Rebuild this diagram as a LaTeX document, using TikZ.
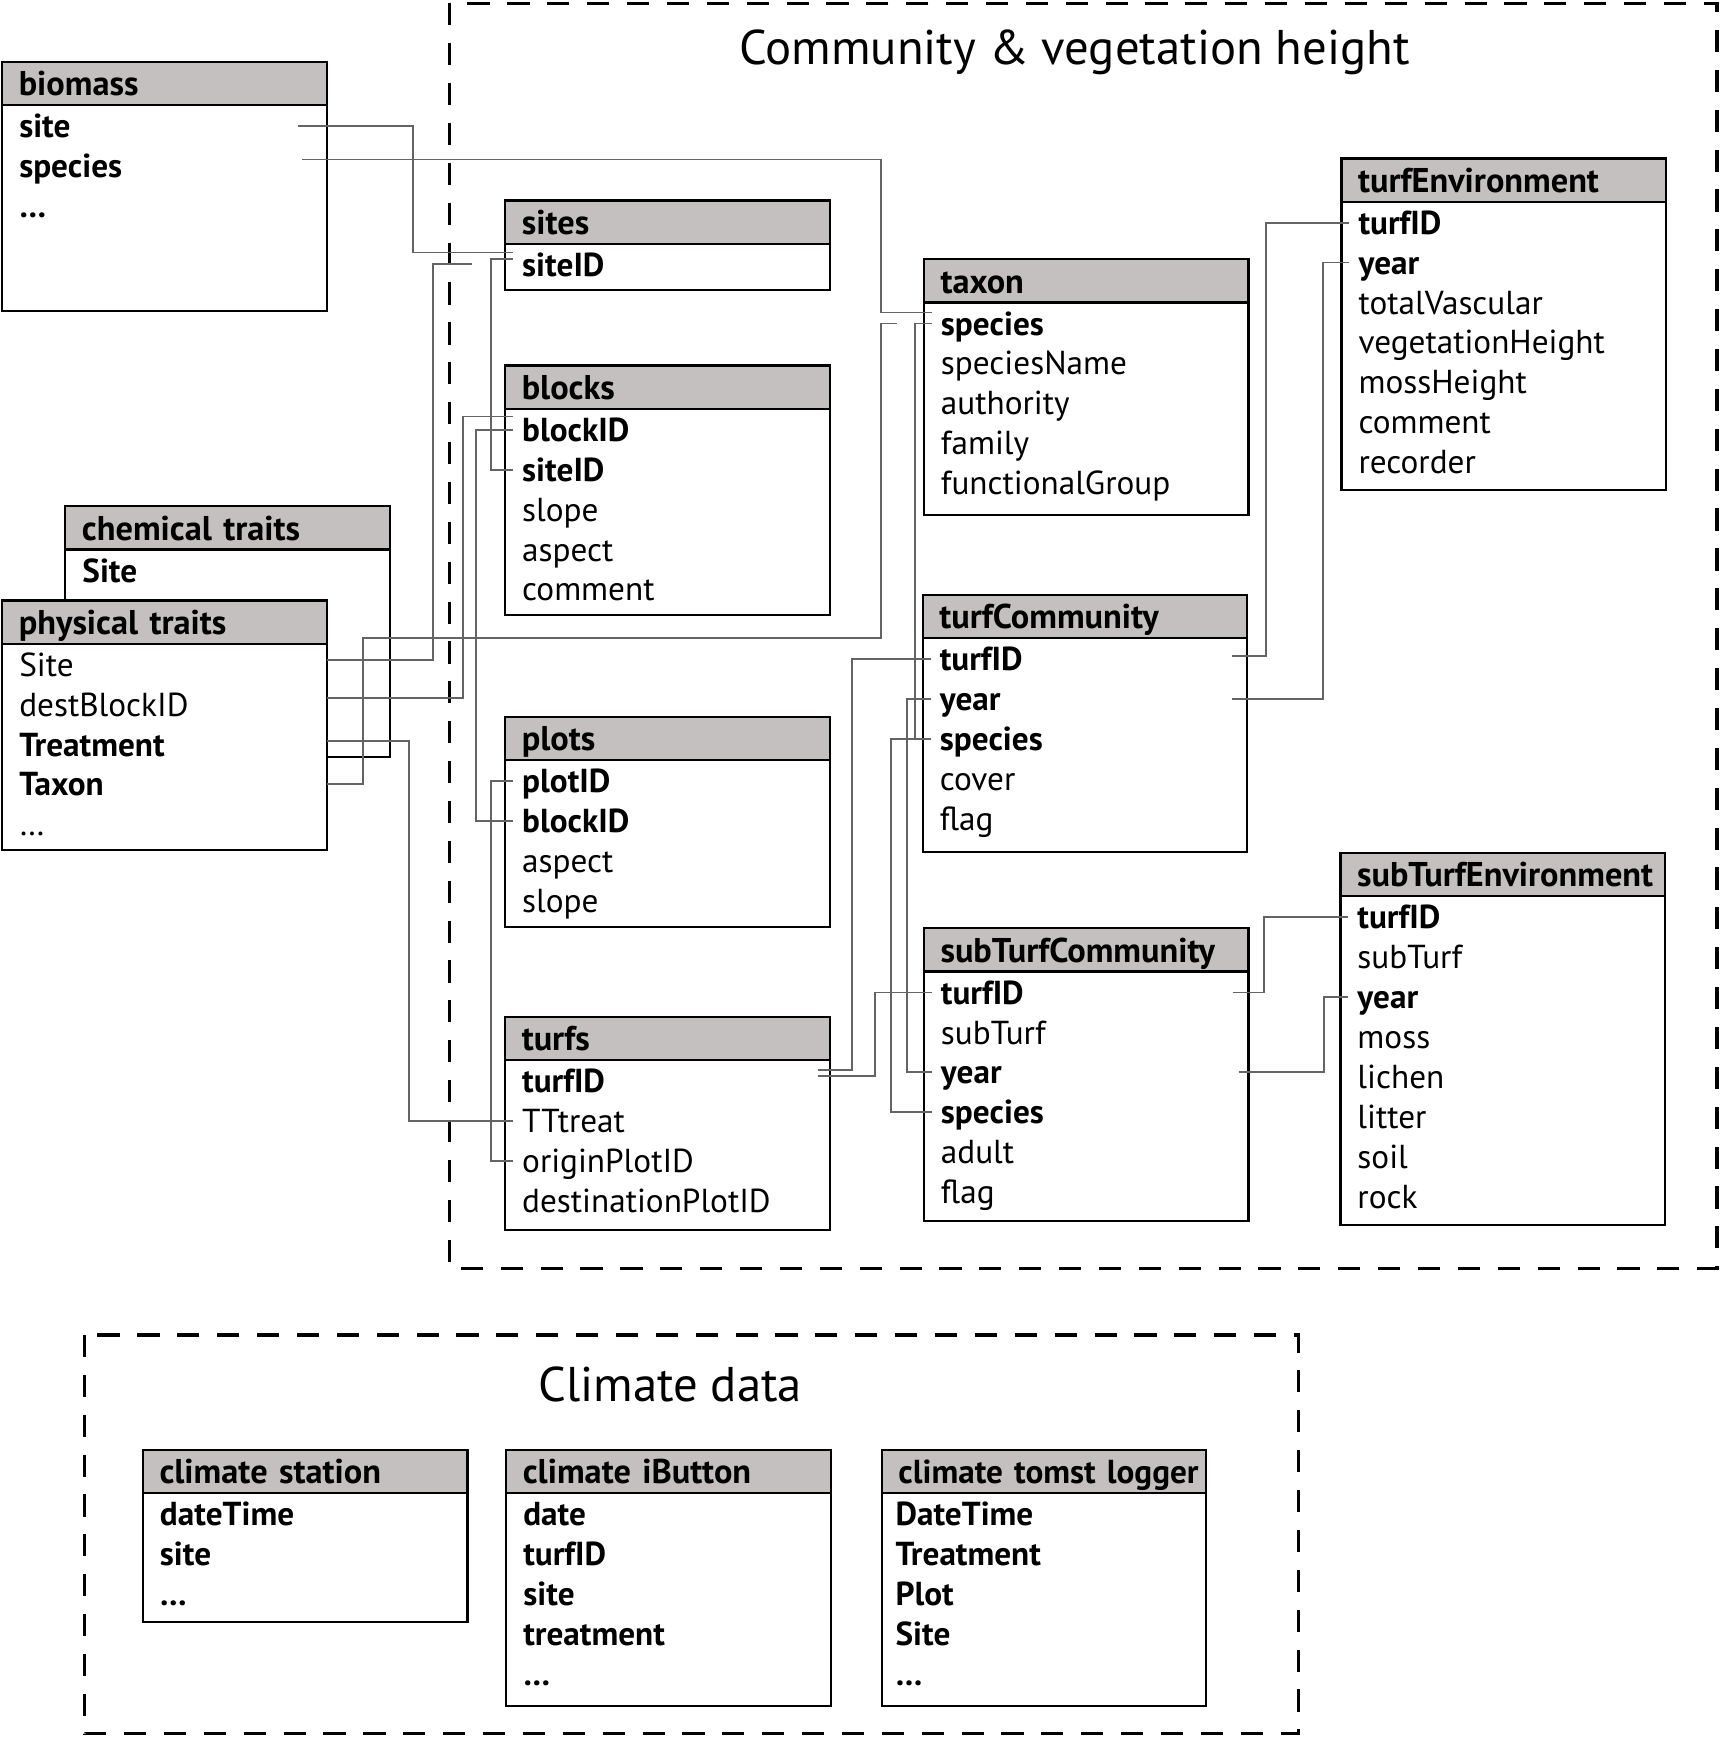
\documentclass[tikz,border=0pt]{standalone}
\usepackage{fontspec}
\setmainfont{PT Sans}
\usetikzlibrary{calc}
\definecolor{headgray}{HTML}{C4C0BF}
\definecolor{linkgray}{HTML}{646464}

\begin{document}
\begin{tikzpicture}[x=0.5pt,y=-0.5pt]
  \tikzset{
    table/.style={draw=black, line width=1pt, outer sep=0pt, anchor=north west,
          minimum width=146.5pt},
    head/.style={table, fill=headgray, minimum height=19.5pt, inner xsep=7.5pt,
          inner ysep=2pt, text width=131.5pt, text height=13pt, text depth=2pt,
          font=\fontsize{15.5}{18}\selectfont\bfseries},
    body/.style={table, fill=white},
    field/.style={anchor=west, inner xsep=4pt, inner ysep=0pt,
          text height=12pt, text depth=1.5pt, font=\fontsize{15}{18}\selectfont},
    link/.style={draw=linkgray, line width=0.8pt},
    group/.style={line width=1.5pt, dash pattern=on 10pt off 8pt},
    title/.style={font=\fontsize{22}{26}\selectfont}
  }
  \useasboundingbox (0,0) rectangle (1553,1568);
  \fill[white] (0,0) rectangle (1553,1568);

  % dashed groups
  \draw[group] (406,3) rectangle (1550,1145);
  \draw[group] (76,1205) rectangle (1172,1565);
  \node[title] (commtitle) at (970,47) {Community \& vegetation height};
  \node[title] (climtitle) at (605,1250) {Climate data};

  % tables outside the groups
  \node[head] (biomass) at (2,56) {biomass};
  \node[body, minimum height=93pt] (biomass-b) at (biomass.south west) {};
  \foreach \f/\w [count=\i] in {site/\bfseries, species/\bfseries, \dots/\bfseries}
    \node[field] (biomass-\i) at ($(biomass.south west)+(7,36*\i-17)$) {\w\f};

  \node[head] (chem) at (59,457) {chemical traits};
  \node[body, minimum height=93.5pt] (chem-b) at (chem.south west) {};
  \foreach \f/\w [count=\i] in {Site/\bfseries}
    \node[field] (chem-\i) at ($(chem.south west)+(7,36*\i-17)$) {\w\f};

  \node[head] (phys) at (2,542) {physical traits};
  \node[body, minimum height=93pt] (phys-b) at (phys.south west) {};
  \foreach \f/\w [count=\i] in {Site/\mdseries, destBlockID/\mdseries,
      Treatment/\bfseries, Taxon/\bfseries, \dots/\mdseries}
    \node[field] (phys-\i) at ($(phys.south west)+(7,36*\i-17)$) {\w\f};

  % community tables
  \node[head] (sites) at (456,181) {sites};
  \node[body, minimum height=21pt] (sites-b) at (sites.south west) {};
  \foreach \f/\w [count=\i] in {siteID/\bfseries}
    \node[field] (sites-\i) at ($(sites.south west)+(7,36*\i-17)$) {\w\f};

  \node[head] (blocks) at (456,330) {blocks};
  \node[body, minimum height=93pt] (blocks-b) at (blocks.south west) {};
  \foreach \f/\w [count=\i] in {blockID/\bfseries, siteID/\bfseries,
      slope/\mdseries, aspect/\mdseries, comment/\mdseries}
    \node[field] (blocks-\i) at ($(blocks.south west)+(7,36*\i-17)$) {\w\f};

  \node[head] (plots) at (456,647) {plots};
  \node[body, minimum height=75.5pt] (plots-b) at (plots.south west) {};
  \foreach \f/\w [count=\i] in {plotID/\bfseries, blockID/\bfseries,
      aspect/\mdseries, slope/\mdseries}
    \node[field] (plots-\i) at ($(plots.south west)+(7,36*\i-17)$) {\w\f};

  \node[head] (turfs) at (456,918) {turfs};
  \node[body, minimum height=76.5pt] (turfs-b) at (turfs.south west) {};
  \foreach \f/\w [count=\i] in {turfID/\bfseries, TTtreat/\mdseries,
      originPlotID/\mdseries, destinationPlotID/\mdseries}
    \node[field] (turfs-\i) at ($(turfs.south west)+(7,36*\i-17)$) {\w\f};

  \node[head] (taxon) at (834,234) {taxon};
  \node[body, minimum height=96pt] (taxon-b) at (taxon.south west) {};
  \foreach \f/\w [count=\i] in {species/\bfseries, speciesName/\mdseries,
      authority/\mdseries, family/\mdseries, functionalGroup/\mdseries}
    \node[field] (taxon-\i) at ($(taxon.south west)+(7,36*\i-17)$) {\w\f};

  \node[head] (tcomm) at (833,537) {turfCommunity};
  \node[body, minimum height=96.5pt] (tcomm-b) at (tcomm.south west) {};
  \foreach \f/\w [count=\i] in {turfID/\bfseries, year/\bfseries,
      species/\bfseries, cover/\mdseries, flag/\mdseries}
    \node[field] (tcomm-\i) at ($(tcomm.south west)+(7,36*\i-17)$) {\w\f};

  \node[head] (stcomm) at (834,838) {subTurfCommunity};
  \node[body, minimum height=112.5pt] (stcomm-b) at (stcomm.south west) {};
  \foreach \f/\w [count=\i] in {turfID/\bfseries, subTurf/\mdseries,
      year/\bfseries, species/\bfseries, adult/\mdseries, flag/\mdseries}
    \node[field] (stcomm-\i) at ($(stcomm.south west)+(7,36*\i-17)$) {\w\f};

  \node[head] (tenv) at (1211,143) {turfEnvironment};
  \node[body, minimum height=130pt] (tenv-b) at (tenv.south west) {};
  \foreach \f/\w [count=\i] in {turfID/\bfseries, year/\bfseries,
      totalVascular/\mdseries, vegetationHeight/\mdseries,
      mossHeight/\mdseries, comment/\mdseries, recorder/\mdseries}
    \node[field] (tenv-\i) at ($(tenv.south west)+(7,36*\i-17)$) {\w\f};

  \node[head] (stenv) at (1210,770) {\mbox{subTurfEnvironment}};
  \node[body, minimum height=148.5pt] (stenv-b) at (stenv.south west) {};
  \foreach \f/\w [count=\i] in {turfID/\bfseries, subTurf/\mdseries,
      year/\bfseries, moss/\mdseries, lichen/\mdseries, litter/\mdseries,
      soil/\mdseries, rock/\mdseries}
    \node[field] (stenv-\i) at ($(stenv.south west)+(7,36*\i-17)$) {\w\f};

  % climate tables
  \node[head] (station) at (129,1309) {climate station};
  \node[body, minimum height=58pt] (station-b) at (station.south west) {};
  \foreach \f [count=\i] in {dateTime, site, \dots}
    \node[field] (station-\i) at ($(station.south west)+(7,36*\i-17)$) {\bfseries\f};

  \node[head] (ibutton) at (457,1309) {climate iButton};
  \node[body, minimum height=96pt] (ibutton-b) at (ibutton.south west) {};
  \foreach \f [count=\i] in {date, turfID, site, treatment, \dots}
    \node[field] (ibutton-\i) at ($(ibutton.south west)+(7,36*\i-17)$) {\bfseries\f};

  \node[head, inner xsep=5.5pt, font=\fontsize{15}{18}\selectfont\bfseries]
    (tomst) at (796,1309) {\mbox{climate tomst logger}};
  \node[body, minimum height=96pt] (tomst-b) at (tomst.south west) {};
  \foreach \f [count=\i] in {DateTime, Treatment, Plot, Site, \dots}
    \node[field] (tomst-\i) at ($(tomst.south west)+(4,36*\i-17)$) {\bfseries\f};

  % free ends
  \coordinate (sitestub) at (426,238);
  \coordinate (taxonstub) at (810,292);

  % links
  \draw[link] ($(biomass-b.east |- biomass-1)+(-26,0)$) -| (373,228)
        -- ($(sites-1.west)+(0,-11)$);
  \draw[link] ($(biomass-b.east |- biomass-2)+(-22,-6)$) -| (795,282)
        -- ($(taxon-1.west)+(0,-10)$);
  \draw[link] ($(phys-b.east |- phys-1)+(0,-4)$) -| (391,238) -- (sitestub);
  \draw[link] ($(phys-b.east |- phys-2)+(0,-6)$) -| (418,376)
        -- ($(blocks-1.west)+(0,-12)$);
  \draw[link] ($(phys-b.east |- phys-3)+(0,-3)$) -| (369,1012) -- (turfs-2.west);
  \draw[link] (phys-b.east |- phys-4) -| (328,576) -| (795,292) -- (taxonstub);

  \draw[link] ($(sites-1.west)+(0,-5)$) -| (443,424) -- (blocks-2.west);
  \draw[link] (blocks-1.west) -| (430,741) -- (plots-2.west);
  \draw[link] (plots-1.west) -| (443,1048) -- (turfs-3.west);

  \draw[link] ($(turfs-b.east |- turfs-1)+(-11,-10)$) -| (769,595) -- (tcomm-1.west);
  \draw[link] ($(turfs-b.east |- turfs-1)+(-11,-5)$) -| (790,896) -- (stcomm-1.west);

  \draw[link] (taxon-1.west) -| (826,667) -- (tcomm-3.west);
  \draw[link] (tcomm-2.west) -| (819,968) -- (stcomm-3.west);
  \draw[link] (tcomm-3.west) -| (804,1004) -- (stcomm-4.west);

  \draw[link] ($(tcomm-b.east |- tcomm-1)+(-14,-3)$) -| (1143,201) -- (tenv-1.west);
  \draw[link] ($(tcomm-b.east |- tcomm-2)+(-14,0)$) -| (1194,237) -- (tenv-2.west);
  \draw[link] ($(stcomm-b.east |- stcomm-1)+(-14,0)$) -| (1141,828) -- (stenv-1.west);
  \draw[link] ($(stcomm-b.east |- stcomm-3)+(-9,0)$) -| (1195,900) -- (stenv-3.west);
\end{tikzpicture}
\end{document}
